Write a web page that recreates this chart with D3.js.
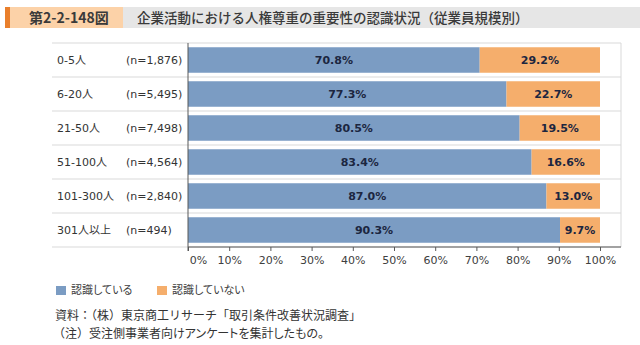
<!DOCTYPE html>
<html><head><meta charset="utf-8">
<script src="https://cdn.jsdelivr.net/npm/d3@7"></script>
<style>
html,body{margin:0;padding:0;background:#fff;}
svg{display:block;}
.jp{font-family:"Noto Sans CJK JP","Noto Sans",sans-serif;}
.vd{font-family:"DejaVu Sans","Noto Sans CJK JP",sans-serif;}
</style>
</head><body>
<svg id="chart" width="640" height="345"></svg>
<script>
// ---- data ----
const figureNo = "第2-2-148図";
const title = "企業活動における人権尊重の重要性の認識状況（従業員規模別）";
const categories = ["0-5人", "6-20人", "21-50人", "51-100人", "101-300人", "301人以上"];
const sampleSizes = ["(n=1,876)", "(n=5,495)", "(n=7,498)", "(n=4,564)", "(n=2,840)", "(n=494)"];
const recognized = [70.8, 77.3, 80.5, 83.4, 87.0, 90.3];
const notRecognized = [29.2, 22.7, 19.5, 16.6, 13.0, 9.7];
const seriesNames = ["認識している", "認識していない"];
const xTicks = [0, 10, 20, 30, 40, 50, 60, 70, 80, 90, 100];
const noteSource = "資料：（株）東京商工リサーチ「取引条件改善状況調査」";
const noteHead = "（注）";
const noteBody = "受注側事業者向けアンケートを集計したもの。";

// ---- layout ----
const colors = ["#7b9cc3", "#f5ae6c"];
const svg = d3.select("#chart");

// title bar
svg.append("rect").attr("x", 5).attr("y", 7).attr("width", 635).attr("height", 21).attr("fill", "#e6e6e6");
svg.append("rect").attr("x", 10).attr("y", 7).attr("width", 113).attr("height", 21).attr("fill", "#fcd2a8");
svg.append("rect").attr("x", 5).attr("y", 7).attr("width", 5).attr("height", 21).attr("fill", "#e97f2c");
svg.append("text").attr("class", "jp").attr("x", 29).attr("y", 22.5)
  .attr("font-size", 14).attr("font-weight", "bold").attr("fill", "#3a3a3a").text(figureNo);
svg.append("text").attr("class", "jp").attr("x", 137).attr("y", 22.5)
  .attr("font-size", 13.5).attr("font-weight", 500).attr("fill", "#3a3a3a").text(title);

const data = categories.map((c, i) => ({cat: c, n: sampleSizes[i], a: recognized[i], b: notRecognized[i]}));
const stack = d3.stack().keys(["a", "b"])(data);

const x = d3.scaleLinear().domain([0, 100]).range([188, 600]);
const y = d3.scaleBand().domain(categories).range([43, 247]).paddingInner(0.25).paddingOuter(0.125);

// row grid lines
const gridY = d3.range(categories.length + 1).map(i => 43 + i * y.step());
svg.append("g").selectAll("line").data(gridY).join("line")
  .attr("x1", 52).attr("x2", 621).attr("y1", d => d).attr("y2", d => d)
  .attr("stroke", "#d9d9d9").attr("stroke-width", 1);
svg.append("line").attr("x1", 621).attr("x2", 621).attr("y1", 43).attr("y2", 247)
  .attr("stroke", "#d9d9d9");

// bars
const layers = svg.append("g").selectAll("g").data(stack).join("g").attr("fill", (d, i) => colors[i]);
layers.selectAll("rect").data(d => d).join("rect")
  .attr("x", d => x(d[0])).attr("width", d => x(d[1]) - x(d[0]))
  .attr("y", d => y(d.data.cat)).attr("height", y.bandwidth());

// bar labels
layers.selectAll("text").data(d => d).join("text")
  .attr("class", "vd")
  .attr("x", d => (x(d[0]) + x(d[1])) / 2)
  .attr("y", d => y(d.data.cat) + y.bandwidth() / 2)
  .attr("dy", "0.36em").attr("text-anchor", "middle")
  .attr("font-size", 11).attr("font-weight", "bold").attr("fill", "#1c2640")
  .text(d => (d[1] - d[0]).toFixed(1) + "%");

// category labels
svg.append("g").selectAll("text").data(data).join("text")
  .attr("class", "vd").attr("x", 57).attr("y", d => y(d.cat) + y.bandwidth() / 2).attr("dy", "0.36em")
  .attr("font-size", 11).attr("fill", "#333").text(d => d.cat);
svg.append("g").selectAll("text").data(data).join("text")
  .attr("class", "vd").attr("x", 126).attr("y", d => y(d.cat) + y.bandwidth() / 2).attr("dy", "0.36em")
  .attr("font-size", 11).attr("fill", "#333").text(d => d.n);

// x axis
const axis = svg.append("g").attr("transform", "translate(0,247)")
  .call(d3.axisBottom(x).tickValues(xTicks).tickFormat(d => d + "%").tickSize(4).tickSizeOuter(0).tickPadding(5));
axis.select(".domain").remove();
axis.selectAll(".tick line").attr("stroke", "#595959");
axis.selectAll(".tick text").attr("font-size", 11).attr("fill", "#404040")
  .attr("dx", d => d === 0 ? 10 : 0)
  .style("font-family", "'DejaVu Sans',sans-serif");
svg.append("line").attr("x1", 188).attr("x2", 621).attr("y1", 247).attr("y2", 247).attr("stroke", "#595959");
svg.append("line").attr("x1", 188).attr("x2", 188).attr("y1", 43).attr("y2", 251).attr("stroke", "#595959");

// legend
const legendX = [56, 157];
const lg = svg.append("g").selectAll("g").data(seriesNames).join("g")
  .attr("transform", (d, i) => `translate(${legendX[i]},286)`);
lg.append("rect").attr("width", 10).attr("height", 9).attr("fill", (d, i) => colors[i]);
lg.append("text").attr("class", "jp").attr("x", 15).attr("y", 4.5).attr("dy", "0.36em")
  .attr("font-size", 11).attr("fill", "#404040").style("font-feature-settings", "'palt'").text(d => d);

// notes
svg.append("text").attr("class", "jp").attr("x", 55).attr("y", 319.5)
  .attr("font-size", 12).attr("fill", "#333").text(noteSource);
const n2 = svg.append("text").attr("class", "jp").attr("x", 53).attr("y", 337.5)
  .attr("font-size", 12).attr("fill", "#333");
n2.append("tspan").text(noteHead);
n2.append("tspan").style("font-feature-settings", "'palt'").text(noteBody);
</script>
</body></html>
